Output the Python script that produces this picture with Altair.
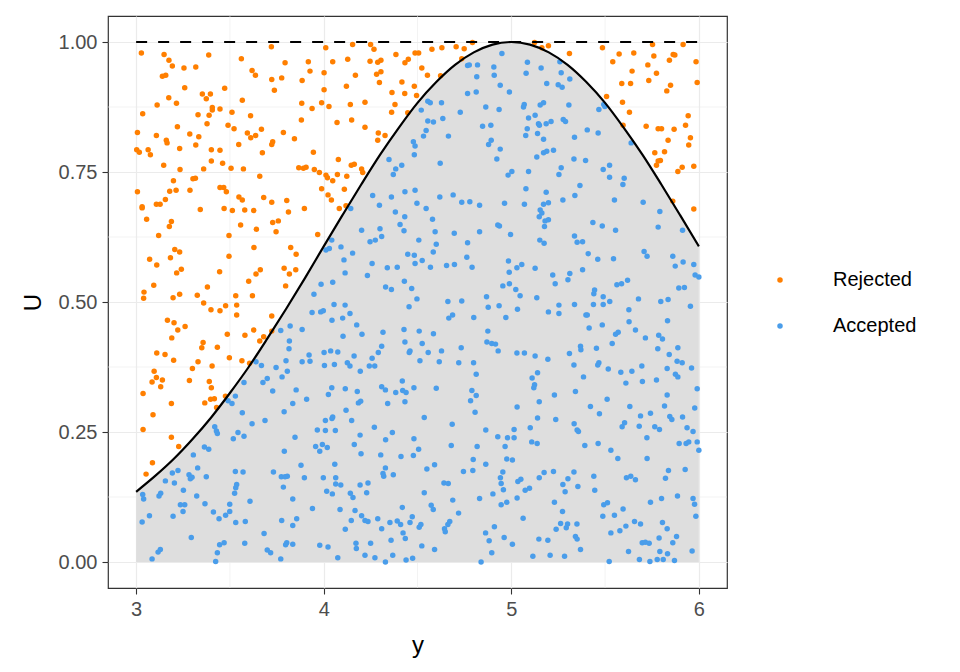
import altair as alt
import pandas as pd

# ---- data ----
curve_y = [3.0, 3.1, 3.2, 3.3, 3.4, 3.5, 3.6, 3.7, 3.8, 3.9, 4.0, 4.1, 4.2, 4.3, 4.4, 4.5,
           4.6, 4.7, 4.8, 4.9, 5.0, 5.1, 5.2, 5.3, 5.4, 5.5, 5.6, 5.7, 5.8, 5.9, 6.0]
curve_density = [0.135, 0.165, 0.198, 0.236, 0.278, 0.325, 0.375, 0.430, 0.487, 0.546, 0.607,
                 0.667, 0.726, 0.783, 0.835, 0.883, 0.923, 0.956, 0.980, 0.995, 1.000,
                 0.995, 0.980, 0.956, 0.923, 0.883, 0.835, 0.783, 0.726, 0.667, 0.607]

rejected = [
 (3.028,0.979),(3.149,0.976),(3.175,0.965),(3.193,0.954),(3.255,0.950),(3.318,0.952),(3.387,0.975),
 (3.140,0.934),(3.158,0.936),(3.259,0.912),(3.174,0.893),(3.215,0.882),(3.112,0.879),(3.035,0.862),
 (3.353,0.900),(3.396,0.900),(3.374,0.891),(3.472,0.911),(3.406,0.874),(3.406,0.869),(3.447,0.871),
 (3.330,0.860),(3.389,0.859),(3.378,0.843),(3.511,0.865),(3.561,0.968),(3.618,0.945),(3.636,0.936),
 (3.566,0.888),(3.610,0.858),(3.220,0.837),(3.007,0.826),(3.108,0.820),(3.286,0.823),(3.334,0.818),
 (3.161,0.811),(3.165,0.806),(3.490,0.840),(3.522,0.833),(3.593,0.825),(3.611,0.816),(3.637,0.820),
 (3.668,0.832),(3.547,0.803),(3.318,0.802),(3.003,0.793),(3.017,0.788),(3.064,0.793),(3.076,0.783),
 (3.232,0.795),(3.401,0.793),(3.447,0.792),(3.673,0.787),(3.401,0.771),(3.461,0.767),(3.147,0.763),
 (3.234,0.755),(3.360,0.756),(3.506,0.757),(3.572,0.756),(3.659,0.742),(3.199,0.733),(3.303,0.737),
 (3.316,0.738),(3.007,0.712),(3.179,0.713),(3.213,0.715),(3.287,0.715),(3.447,0.720),(3.467,0.720),
 (3.481,0.712),(3.548,0.702),(3.566,0.696),(3.680,0.701),(3.032,0.683),(3.108,0.688),(3.128,0.688),
 (3.156,0.697),
 (3.721,0.991),(3.794,0.960),(3.918,0.962),(4.011,0.989),(4.154,0.995),(4.250,0.995),(4.268,0.986),
 (4.048,0.962),(4.128,0.967),(4.247,0.963),(4.288,0.961),(4.305,0.965),(4.385,0.976),(4.433,0.960),
 (4.451,0.967),(4.487,0.979),(3.927,0.944),(4.002,0.941),(3.723,0.928),(3.776,0.931),(3.885,0.926),
 (4.169,0.936),(4.282,0.938),(4.305,0.943),(4.297,0.922),(3.737,0.907),(4.002,0.908),(4.121,0.915),
 (4.417,0.923),(4.364,0.903),(4.432,0.901),(4.483,0.915),(3.883,0.882),(3.989,0.883),(4.028,0.876),
 (3.938,0.872),(4.142,0.880),(4.220,0.884),(4.380,0.880),(4.362,0.865),(4.448,0.864),(3.881,0.850),
 (4.071,0.845),(4.149,0.850),(4.220,0.836),(3.785,0.826),(3.728,0.808),(3.723,0.803),(3.844,0.814),
 (4.291,0.825),(4.327,0.820),(4.288,0.811),(3.945,0.788),(4.078,0.774),(3.867,0.758),(3.892,0.757),
 (3.906,0.759),(3.950,0.755),(3.977,0.749),(4.012,0.744),(4.020,0.739),(4.048,0.733),(4.073,0.745),
 (4.123,0.742),(4.147,0.763),(4.163,0.765),(4.202,0.756),(4.208,0.749),(3.989,0.718),(4.110,0.717),
 (4.023,0.706),(4.041,0.696),(3.803,0.695),(3.723,0.692),(4.119,0.685),
 (4.506,0.979),(4.577,0.986),(4.630,0.989),(4.706,0.991),(4.749,0.987),(4.793,0.999),(4.523,0.950),
 (4.553,0.936),(4.623,0.935),(4.736,0.968),(4.495,0.897),(5.124,0.999),(5.163,0.989),(5.198,0.993),
 (5.310,0.978),(5.486,0.989),(5.575,0.977),(5.541,0.962),(5.653,0.979),(5.753,0.995),(5.760,0.973),
 (5.728,0.956),(5.774,0.940),(5.644,0.944),(5.843,0.965),(5.863,0.976),(5.872,0.975),(5.916,0.995),
 (5.985,0.962),(5.991,0.922),(5.589,0.920),(5.636,0.920),(5.733,0.926),(5.849,0.917),(5.829,0.906),
 (5.508,0.895),(5.593,0.884),(5.630,0.865),(5.596,0.840),(5.719,0.838),(5.783,0.833),(5.801,0.833),
 (5.868,0.832),(5.929,0.840),(5.943,0.858),(5.836,0.811),(5.955,0.816),(5.946,0.802),(5.765,0.787),
 (5.817,0.789),(5.783,0.771),(5.795,0.772),(5.774,0.763),(5.911,0.759),(5.888,0.751),(5.973,0.761),
 (5.861,0.694),(5.973,0.679),
 (3.032,0.681),(3.342,0.678),(3.469,0.680),(3.513,0.676),(3.579,0.677),(3.627,0.676),(3.056,0.659),
 (3.188,0.655),(3.177,0.645),(3.557,0.648),(3.641,0.640),(3.120,0.628),(3.495,0.628),(3.206,0.601),
 (3.232,0.596),(3.183,0.585),(3.072,0.582),(3.628,0.605),(3.495,0.588),(3.110,0.571),(3.241,0.563),
 (3.216,0.556),(3.445,0.558),(3.662,0.562),(3.639,0.554),(3.600,0.540),(3.094,0.532),(3.380,0.529),
 (3.042,0.519),(3.040,0.507),(3.197,0.508),(3.232,0.515),(3.326,0.513),(3.531,0.512),(3.620,0.512),
 (3.360,0.498),(3.399,0.485),(3.447,0.483),(3.477,0.493),(3.536,0.494),(3.536,0.475),(3.167,0.465),
 (3.202,0.460),(3.261,0.453),(3.222,0.446),(3.190,0.431),(3.486,0.438),(3.580,0.436),(3.627,0.446),
 (3.659,0.425),(3.680,0.433),(3.357,0.422),(3.350,0.412),(3.433,0.413),(3.110,0.402),(3.154,0.399),
 (3.200,0.388),(3.330,0.385),(3.497,0.393),(3.564,0.387),(3.605,0.382),(3.300,0.372),(3.405,0.377),
 (3.096,0.367),(3.108,0.355),(3.085,0.346),(3.140,0.350),(3.284,0.349),(3.390,0.347),
 (3.812,0.673),(3.897,0.680),(4.083,0.680),(3.728,0.653),(3.758,0.656),(3.746,0.635),(3.968,0.630),
 (3.824,0.605),(3.853,0.592),(3.789,0.565),(3.851,0.562),(3.817,0.554),(3.797,0.531),(3.723,0.473),
 (3.723,0.444),
 (3.037,0.324),(3.131,0.337),(3.188,0.305),(3.090,0.283),(3.037,0.255),(3.188,0.240),(3.227,0.222),
 (3.087,0.191),(3.053,0.169),(3.401,0.335),(3.366,0.306),(3.397,0.313),(3.417,0.314),(3.429,0.297),
 (3.476,0.319),
]

accepted = [
 (4.478,0.808),(4.487,0.800),(4.483,0.783),(4.348,0.774),(4.384,0.756),(4.371,0.745),(4.416,0.763),
 (4.433,0.712),(4.487,0.715),(4.261,0.705),(4.297,0.686),(4.361,0.702),
 (4.950,0.978),(5.086,0.961),(5.159,0.950),(4.767,0.955),(4.776,0.956),(4.820,0.956),(4.907,0.952),
 (4.909,0.936),(5.079,0.940),(4.816,0.933),(4.941,0.917),(5.189,0.920),(4.767,0.901),(4.813,0.904),
 (4.990,0.904),(4.555,0.886),(4.568,0.883),(4.520,0.869),(4.628,0.883),(4.728,0.865),(4.864,0.875),
 (4.935,0.870),(5.069,0.880),(5.065,0.875),(5.154,0.879),(5.172,0.883),(5.127,0.859),(5.092,0.854),
 (4.555,0.848),(4.585,0.846),(4.635,0.853),(4.847,0.838),(4.891,0.840),(5.145,0.843),(5.150,0.840),
 (5.186,0.843),(5.212,0.847),(5.085,0.833),(4.546,0.830),(4.532,0.819),(4.665,0.819),(5.077,0.820),
 (5.140,0.824),(5.172,0.813),(4.893,0.811),(4.879,0.803),(4.941,0.794),(4.923,0.775),(5.136,0.779),
 (5.172,0.787),(5.189,0.790),(5.225,0.792),(4.621,0.767),(5.003,0.751),(4.983,0.744),(5.092,0.751),
 (5.078,0.718),(5.186,0.711),(4.619,0.702),(4.690,0.706),(4.736,0.692),(4.779,0.693),(4.831,0.686),
 (4.497,0.690),(4.964,0.690),(5.070,0.688),(5.172,0.688),(5.198,0.691),
 (5.259,0.962),(5.266,0.941),(5.312,0.929),(5.250,0.918),(5.271,0.913),(5.307,0.879),(5.493,0.880),
 (5.499,0.876),(5.467,0.870),(5.277,0.851),(5.289,0.847),(5.405,0.831),(5.463,0.825),(5.337,0.817),
 (5.639,0.806),(5.334,0.775),(5.396,0.772),(5.266,0.758),(5.254,0.745),(5.490,0.755),(5.524,0.763),
 (5.524,0.740),(5.602,0.738),(5.595,0.726),(5.366,0.724),(5.339,0.705),(5.275,0.696),(5.550,0.696),
 (5.703,0.692),
 (3.639,0.385),(3.668,0.378),(3.575,0.345),(3.676,0.345),(3.699,0.353),
 (4.144,0.680),(4.382,0.673),(4.432,0.664),(4.407,0.649),(4.428,0.637),(4.202,0.638),(4.300,0.641),
 (4.309,0.626),(4.275,0.619),(4.247,0.616),(4.043,0.619),(4.030,0.603),(4.012,0.600),(4.092,0.606),
 (4.154,0.594),(4.108,0.581),(4.448,0.592),(4.483,0.590),(4.258,0.574),(4.339,0.566),(4.392,0.567),
 (4.487,0.574),(4.114,0.556),(4.233,0.551),(3.986,0.534),(4.048,0.538),(4.430,0.540),(4.330,0.529),
 (4.361,0.524),(4.469,0.526),(3.948,0.515),(4.055,0.495),(4.114,0.494),(4.455,0.491),(3.938,0.480),
 (3.984,0.481),(3.998,0.483),(4.140,0.478),(4.044,0.465),(4.101,0.469),(4.176,0.456),(3.771,0.445),
 (3.821,0.454),(3.885,0.447),(4.103,0.434),(4.204,0.438),(4.316,0.442),(4.428,0.447),(3.817,0.425),
 (3.815,0.410),(4.433,0.423),(4.460,0.406),(4.456,0.403),(4.309,0.415),(4.291,0.403),(3.922,0.398),
 (3.927,0.386),(4.002,0.403),(4.037,0.406),(4.075,0.404),(4.162,0.396),(4.258,0.392),(3.799,0.387),
 (3.885,0.385),(4.004,0.378),(4.057,0.380),(4.126,0.383),(4.140,0.377),(4.243,0.377),(4.272,0.377),
 (3.746,0.374),(3.806,0.367),(3.778,0.356),(4.195,0.367),(4.419,0.348),
 (4.546,0.680),(5.154,0.677),(5.163,0.671),(5.149,0.664),(5.180,0.656),(5.198,0.658),(5.177,0.645),
 (4.580,0.659),(4.594,0.635),(4.696,0.632),(4.831,0.635),(4.928,0.648),(4.937,0.646),(4.996,0.630),
 (4.507,0.619),(4.600,0.611),(4.767,0.614),(5.152,0.619),(5.175,0.613),(4.584,0.596),(4.763,0.586),
 (4.525,0.580),(4.569,0.567),(4.655,0.570),(4.697,0.572),(4.791,0.567),(4.985,0.579),(4.989,0.557),
 (5.030,0.566),(5.056,0.572),(5.127,0.565),(5.221,0.552),(5.234,0.535),(4.955,0.531),(4.990,0.535),
 (5.024,0.524),(5.047,0.512),(4.497,0.506),(4.662,0.501),(4.736,0.502),(4.868,0.510),(4.877,0.490),
 (4.935,0.493),(5.033,0.486),(5.136,0.508),(5.198,0.481),(4.687,0.475),(4.667,0.469),(4.800,0.470),
 (4.971,0.470),(4.509,0.444),(4.585,0.439),(4.875,0.444),(4.525,0.420),(4.870,0.423),(4.896,0.420),
 (4.916,0.419),(4.930,0.406),(4.733,0.412),(4.628,0.406),(4.557,0.403),(5.030,0.402),(5.070,0.402),
 (5.127,0.396),(5.195,0.390),(4.513,0.387),(4.616,0.385),(4.720,0.383),(4.799,0.383),(4.813,0.361),
 (5.140,0.364),(5.111,0.354),(5.124,0.341),
 (5.792,0.674),(5.435,0.653),(5.485,0.646),(5.556,0.638),(5.783,0.644),(5.913,0.638),(5.337,0.627),
 (5.351,0.615),(5.380,0.616),(5.410,0.593),(5.461,0.582),(5.545,0.583),(5.708,0.597),(5.724,0.588),
 (5.861,0.588),(5.874,0.569),(5.916,0.577),(5.973,0.572),(5.980,0.552),(6.000,0.548),(5.380,0.562),
 (5.312,0.555),(5.302,0.543),(5.563,0.533),(5.588,0.535),(5.620,0.542),(5.444,0.523),(5.440,0.516),
 (5.490,0.510),(5.893,0.527),(5.923,0.528),(5.254,0.494),(5.254,0.478),(5.337,0.495),(5.438,0.495),
 (5.490,0.495),(5.525,0.501),(5.678,0.506),(5.797,0.501),(5.836,0.505),(5.955,0.492),(5.627,0.485),
 (5.398,0.475),(5.405,0.475),(5.628,0.462),(5.833,0.464),(5.485,0.456),(5.415,0.450),(5.662,0.446),
 (5.556,0.438),(5.570,0.442),(5.538,0.420),(5.715,0.431),(5.786,0.436),(5.806,0.429),(5.369,0.415),
 (5.371,0.408),(5.454,0.411),(5.310,0.401),(5.781,0.410),(5.888,0.412),(5.842,0.399),(5.334,0.379),
 (5.467,0.383),(5.461,0.379),(5.517,0.371),(5.584,0.365),(5.643,0.367),(5.696,0.377),(5.884,0.386),
 (5.911,0.383),(5.831,0.372),(5.961,0.373),(5.875,0.361),(5.888,0.356),(5.385,0.356),(5.611,0.344),
 (5.699,0.347),(5.774,0.350),
 (3.490,0.310),(3.511,0.305),(3.529,0.319),(3.566,0.287),(3.618,0.266),(3.687,0.272),(3.419,0.260),
 (3.428,0.252),(3.433,0.247),(3.543,0.249),(3.575,0.242),(3.518,0.237),(3.364,0.221),(3.387,0.217),
 (3.305,0.206),(3.328,0.181),(3.193,0.171),(3.223,0.176),(3.282,0.168),(3.289,0.160),(3.298,0.163),
 (3.374,0.164),(3.529,0.174),(3.570,0.173),(3.156,0.156),(3.204,0.152),(3.252,0.138),(3.536,0.149),
 (3.531,0.143),(3.525,0.132),(3.035,0.130),(3.040,0.121),(3.122,0.127),(3.131,0.132),(3.323,0.127),
 (3.607,0.117),(3.236,0.110),(3.259,0.110),(3.250,0.097),(3.367,0.112),(3.499,0.111),(3.499,0.097),
 (3.477,0.090),(3.412,0.096),(3.442,0.083),(3.071,0.089),(3.032,0.077),(3.197,0.088),(3.531,0.076),
 (3.582,0.078),(3.294,0.047),(3.682,0.055),(3.445,0.033),(3.469,0.037),(3.579,0.036),(3.433,0.018),
 (3.424,0.001),(3.117,0.019),(3.129,0.024),(3.085,0.006),(3.699,0.023),(3.717,0.018),
 (3.728,0.329),(3.853,0.331),(4.043,0.335),(4.025,0.322),(4.115,0.333),(4.179,0.328),(4.309,0.337),
 (4.329,0.331),(4.384,0.326),(4.421,0.330),(4.439,0.326),(4.481,0.335),(3.909,0.313),(3.835,0.305),
 (3.789,0.289),(4.185,0.306),(4.197,0.309),(4.341,0.305),(4.433,0.308),(4.119,0.292),(4.009,0.272),
 (4.044,0.276),(4.048,0.279),(4.149,0.272),(3.966,0.254),(4.009,0.253),(4.062,0.253),(4.270,0.259),
 (4.366,0.249),(4.194,0.244),(4.330,0.235),(4.481,0.237),(3.847,0.240),(3.957,0.222),(3.993,0.226),
 (4.019,0.220),(3.979,0.213),(4.163,0.226),(3.790,0.213),(4.199,0.208),(4.304,0.206),(4.412,0.203),
 (4.478,0.205),(4.059,0.188),(3.879,0.186),(4.329,0.181),(3.732,0.173),(3.774,0.164),(3.806,0.165),
 (3.794,0.164),(3.897,0.162),(3.998,0.162),(4.064,0.162),(4.064,0.150),(4.091,0.148),(4.316,0.170),
 (4.320,0.165),(4.371,0.168),(4.194,0.148),(4.236,0.152),(3.785,0.144),(4.016,0.136),(4.046,0.131),
 (4.142,0.132),(4.156,0.124),(4.229,0.133),(3.835,0.121),(3.940,0.103),(4.087,0.101),(4.167,0.099),
 (4.419,0.105),(4.202,0.089),(3.776,0.080),(3.856,0.083),(3.835,0.070),(4.147,0.080),(4.220,0.080),
 (4.236,0.078),(4.288,0.083),(4.353,0.076),(4.392,0.079),(4.410,0.072),(4.460,0.076),(4.472,0.087),
 (4.115,0.063),(4.309,0.064),(4.423,0.056),(4.435,0.045),(4.359,0.042),(3.803,0.037),(3.797,0.033),
 (3.835,0.034),(3.979,0.032),(4.023,0.029),(4.172,0.036),(4.174,0.026),(4.250,0.036),(4.220,0.013),
 (4.273,0.008),(4.329,0.000),(4.368,0.013),(4.439,0.004),(4.474,0.007),(4.075,0.008),(3.771,0.006),
 (4.600,0.334),(4.790,0.330),(4.813,0.320),(4.783,0.310),(5.120,0.335),(5.149,0.308),(5.230,0.321),
 (5.031,0.298),(4.807,0.288),(4.536,0.278),(4.685,0.265),(5.140,0.277),(5.237,0.274),(4.864,0.254),
 (4.928,0.241),(4.980,0.239),(5.015,0.239),(5.015,0.255),(5.101,0.258),(5.109,0.231),(5.138,0.228),
 (4.506,0.217),(4.680,0.224),(4.818,0.222),(4.967,0.222),(4.550,0.179),(4.591,0.187),(4.797,0.197),
 (4.795,0.176),(4.864,0.188),(4.976,0.198),(5.006,0.196),(4.745,0.174),(4.955,0.173),(4.942,0.162),
 (4.946,0.151),(4.958,0.139),(5.035,0.155),(5.051,0.159),(5.149,0.162),(5.175,0.172),(5.225,0.174),
 (4.641,0.152),(4.664,0.151),(4.536,0.133),(4.902,0.131),(5.074,0.138),(5.097,0.142),(4.831,0.122),
 (5.031,0.123),(4.688,0.119),(4.946,0.110),(4.976,0.115),(5.230,0.115),(4.573,0.109),(4.584,0.101),
 (4.719,0.094),(5.063,0.084),(4.672,0.078),(4.662,0.072),(4.644,0.064),(4.648,0.058),(4.509,0.067),
 (4.518,0.072),(4.910,0.068),(4.863,0.056),(5.239,0.063),(4.882,0.041),(4.962,0.047),(5.006,0.034),
 (5.147,0.044),(5.195,0.042),(4.523,0.031),(4.591,0.024),(4.896,0.018),(4.839,0.000),(5.115,0.011),
 (5.207,0.013),
 (5.342,0.328),(5.511,0.313),(5.831,0.321),(5.991,0.333),(5.422,0.299),(5.470,0.285),(5.632,0.299),
 (5.817,0.300),(5.978,0.296),(5.689,0.281),(5.742,0.286),(5.845,0.280),(5.856,0.274),(5.913,0.279),
 (5.335,0.266),(5.351,0.254),(5.358,0.251),(5.604,0.268),(5.591,0.260),(5.682,0.261),(5.765,0.260),
 (5.790,0.255),(5.937,0.258),(5.969,0.251),(5.723,0.239),(5.392,0.224),(5.463,0.228),(5.531,0.215),
 (5.568,0.199),(5.724,0.199),(5.895,0.228),(5.932,0.228),(5.946,0.231),(5.991,0.231),(6.000,0.215),
 (5.334,0.173),(5.302,0.160),(5.275,0.149),(5.287,0.135),(5.355,0.145),(5.440,0.165),(5.445,0.138),
 (5.614,0.162),(5.637,0.165),(5.662,0.158),(5.838,0.176),(5.822,0.161),(5.927,0.178),(5.273,0.097),
 (5.493,0.110),(5.513,0.114),(5.742,0.115),(5.801,0.122),(5.886,0.127),(5.969,0.122),(5.977,0.111),
 (5.984,0.088),(5.488,0.088),(5.550,0.090),(5.596,0.102),(5.263,0.074),(5.300,0.073),(5.293,0.066),
 (5.350,0.073),(5.342,0.049),(5.351,0.044),(5.657,0.078),(5.689,0.073),(5.611,0.069),(5.579,0.060),
 (5.531,0.056),(5.806,0.076),(5.831,0.064),(5.881,0.049),(5.861,0.037),(5.788,0.046),(5.698,0.037),
 (5.715,0.038),(5.735,0.036),(5.369,0.024),(5.625,0.020),(5.792,0.020),(5.833,0.016),(5.964,0.021),
 (5.284,0.011),(5.522,0.001),(5.683,0.005),(5.739,0.001),(5.778,0.005),(5.810,0.005),(5.870,0.003),
]

status_names = ["Rejected", "Accepted"]
status_colors = ["#FF7F00", "#4A9DEA"]
x_ticks = [3, 4, 5, 6]
y_ticks = [0, 0.25, 0.5, 0.75, 1.0]
x_minor = [3.5, 4.5, 5.5]
y_minor = [0.125, 0.375, 0.625, 0.875]

# ---- tables ----
pts = pd.DataFrame(
    [{"y": a, "U": b, "status": "Rejected"} for a, b in rejected]
    + [{"y": a, "U": b, "status": "Accepted"} for a, b in accepted]
)
curve = pd.DataFrame({"y": curve_y, "density": curve_density})
bound = pd.DataFrame({"y": [3.0], "y2": [6.0], "U": [1.0]})
vminor = pd.DataFrame({"y": x_minor})
hminor = pd.DataFrame({"U": y_minor})

FONT = "Liberation Sans"
xscale = alt.Scale(domain=[2.85, 6.15], nice=False, zero=False)
yscale = alt.Scale(domain=[-0.05, 1.05], nice=False, zero=False)

x_axis = alt.Axis(values=x_ticks, format="d", title="y", titlePadding=14)
y_axis = alt.Axis(values=y_ticks, format=".2f", title="U", titlePadding=13)

minor_v = alt.Chart(vminor).mark_rule(color="#EBEBEB", strokeWidth=0.6).encode(
    x=alt.X("y:Q", scale=xscale, axis=x_axis)
)
minor_h = alt.Chart(hminor).mark_rule(color="#EBEBEB", strokeWidth=0.6).encode(
    y=alt.Y("U:Q", scale=yscale, axis=y_axis)
)

area = alt.Chart(curve).mark_area(color="#DEDEDE", opacity=1).encode(
    x=alt.X("y:Q", scale=xscale, axis=x_axis),
    y=alt.Y("density:Q", scale=yscale, axis=y_axis),
    y2=alt.datum(0),
)

points = alt.Chart(pts).mark_circle(size=30, opacity=1).encode(
    x=alt.X("y:Q", scale=xscale, axis=x_axis),
    y=alt.Y("U:Q", scale=yscale, axis=y_axis),
    color=alt.Color(
        "status:N",
        scale=alt.Scale(domain=status_names, range=status_colors),
        legend=alt.Legend(
            title=None,
            orient="none",
            legendX=662,
            legendY=254,
            symbolType="circle",
            symbolSize=30,
            symbolStrokeWidth=0,
            labelFontSize=20,
            labelFont=FONT,
            labelColor="#000000",
            labelOffset=43,
            rowPadding=26,
            padding=0,
        ),
    ),
)

line = alt.Chart(curve).mark_line(color="black", strokeWidth=2.2, interpolate="monotone").encode(
    x=alt.X("y:Q", scale=xscale, axis=x_axis),
    y=alt.Y("density:Q", scale=yscale, axis=y_axis),
)

dash = alt.Chart(bound).mark_rule(color="black", strokeWidth=2.2, strokeDash=[11, 11]).encode(
    x=alt.X("y:Q", scale=xscale, axis=x_axis),
    x2="y2:Q",
    y=alt.Y("U:Q", scale=yscale, axis=y_axis),
)

chart = (
    alt.layer(minor_v, minor_h, area, points, line, dash)
    .properties(width=619, height=572, padding={"left": 13, "top": 7, "right": 5, "bottom": 5})
    .configure_view(stroke="#333333", strokeWidth=1.2)
    .configure_axis(
        grid=True,
        gridColor="#EBEBEB",
        gridWidth=1.2,
        domain=False,
        ticks=True,
        tickColor="#333333",
        tickSize=6,
        tickWidth=1.1,
        labelFont=FONT,
        labelFontSize=20,
        labelColor="#4D4D4D",
        labelPadding=5,
        titleFont=FONT,
        titleFontSize=24,
        titleFontWeight="normal",
        titleColor="#000000",
    )
)

chart.save("out.html", embed_options={"renderer": "svg", "actions": False})
